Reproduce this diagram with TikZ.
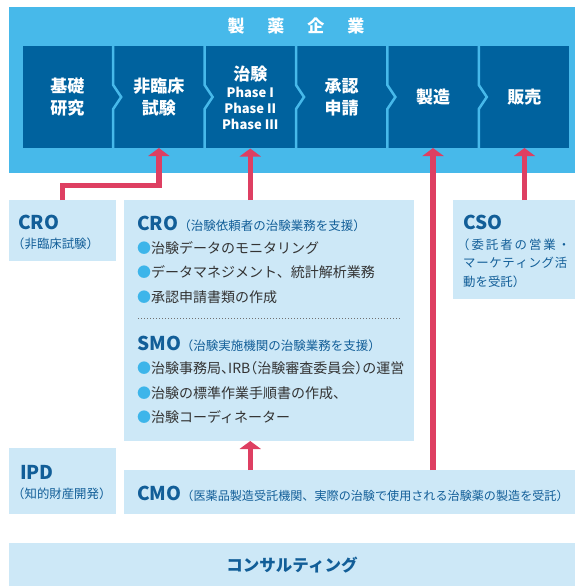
\documentclass[tikz,border=0pt]{standalone}
\usepackage{fontspec}
\setmainfont{Noto Sans CJK JP}
\newfontfamily\hw[RawFeature=+halt]{Noto Sans CJK JP}
\usetikzlibrary{arrows.meta}
\definecolor{outerblue}{HTML}{47B9EA}
\definecolor{stepblue}{HTML}{00629E}
\definecolor{paleblue}{HTML}{CDE8F7}
\definecolor{arrowpink}{HTML}{DE3F62}
\definecolor{headblue}{HTML}{125E98}
\definecolor{bodygray}{HTML}{333333}
\definecolor{dotblue}{HTML}{3DB5EA}
\newcommand{\bdot}{{\color{dotblue}●}}
\newcommand{\phs}{\fontsize{13}{16}\selectfont}
\begin{document}
\begin{tikzpicture}[x=1pt,y=-1pt,
  box/.style={fill=paleblue, draw=none, inner sep=0pt, outer sep=0pt, anchor=north west},
  stepnode/.style={minimum width=88.9pt, minimum height=102pt, inner sep=0pt, outer sep=0pt, text=white, font=\bfseries\fontsize{17}{22}\selectfont, align=center},
  sep/.style={draw=outerblue, line width=2.5pt, miter limit=10},
  arr/.style={draw=arrowpink, line width=5.5pt, -{Triangle[width=21pt,length=8pt]}},
  head/.style={anchor=base west, inner sep=0pt, text=headblue, font=\bfseries\fontsize{19}{22}\selectfont},
  sub/.style={anchor=base west, inner sep=0pt, text=headblue, font=\fontsize{12.4}{14}\selectfont},
  bul/.style={anchor=base west, inner sep=0pt, text=bodygray, font=\fontsize{14}{16}\selectfont},
]
\useasboundingbox (0,0) rectangle (575,586);
% company frame
\node[fill=outerblue, inner sep=0pt, outer sep=0pt, anchor=north west, minimum width=566pt, minimum height=166pt] (corp) at (9,7) {};
\node[anchor=base, inner sep=0pt, text=white, font=\bfseries\fontsize{17}{20}\selectfont] (title) at (296,32.5) {製\hspace{23pt}薬\hspace{23pt}企\hspace{23pt}業};
\fill[stepblue] (23,46) rectangle (569,148);
\foreach \m in {113.2,204.6,296.0,387.4,478.8}
  \draw[sep] (\m,45) -- (\m,85) -- (\m+8,97) -- (\m,109) -- (\m,149);
\node[stepnode] (s1) at (67.45,97) {基礎\\研究};
\node[stepnode] (s2) at (158.85,97) {非臨床\\試験};
\node[stepnode] (s3) at (250.25,97.5) {治験\\[-5pt]\phs Phase I\\[-6pt]\phs Phase II\\[-6pt]\phs Phase III};
\node[stepnode] (s4) at (341.65,97) {承認\\申請};
\node[stepnode] (s5) at (433.05,97) {製造};
\node[stepnode] (s6) at (524.45,97) {販売};
% pale boxes
\node[box, minimum width=107pt, minimum height=61pt] (cro1) at (9,200) {};
\node[box, minimum width=290pt, minimum height=241pt] (cro2) at (124,200) {};
\node[box, minimum width=122pt, minimum height=99pt] (cso) at (453,200) {};
\node[box, minimum width=107pt, minimum height=66pt] (ipd) at (9,448) {};
\node[box, minimum width=451pt, minimum height=44pt] (cmo) at (124,470) {};
\node[box, minimum width=566pt, minimum height=43pt] (cons) at (9,543) {};
% texts
\node[head] (t1) at (18,229) {CRO};
\node[sub] (t1s) at (12,248) {（非臨床試験）};
\node[head] (t2) at (137,230) {CRO{\mdseries\fontsize{12.5}{14}\selectfont （治験依頼者の治験業務を支援）}};
\node[bul] (c1) at (137,253) {\bdot 治験データのモニタリング};
\node[bul] (c2) at (137,277.5) {\bdot データマネジメント、統計解析業務};
\node[bul] (c3) at (137,302) {\bdot 承認申請書類の作成};
\draw[draw=bodygray!70, line width=0.7pt, dash pattern=on 0.7pt off 2.3pt] (138,318) -- (400,318);
\node[head] (t3) at (137,350) {SMO{\mdseries\fontsize{12.5}{14}\selectfont （治験実施機関の治験業務を支援）}};
\node[bul] (m1) at (137,373.5) {\bdot 治験事務局{\hw 、}IRB{\hw （}治験審査委員会{\hw ）}の運営};
\node[bul] (m2) at (137,398) {\bdot 治験の標準作業手順書の作成、};
\node[bul] (m3) at (137,422.5) {\bdot 治験コーディネーター};
\node[head] (t4) at (463,229) {CSO};
\node[sub] (t4a) at (457,249.6) {\makebox[113pt][s]{（\hfill 委\hfill 託\hfill 者\hfill の\hfill 営\hfill 業\hfill ・}};
\node[sub] (t4b) at (463,267.6) {\makebox[104pt][s]{マ\hfill ー\hfill ケ\hfill テ\hfill ィ\hfill ン\hfill グ\hfill 活}};
\node[sub] (t4c) at (463,286.6) {動を受託）};
\node[head] (t5) at (20,479) {IPD};
\node[sub] (t5s) at (12,498) {（知的財産開発）};
\node[head] (t6) at (137,500) {CMO{\mdseries\fontsize{12.1}{14}\selectfont （医薬品製造受託機関、実際の治験で使用される治験薬の製造を受託{\hw ）}}};
\node[anchor=base, inner sep=0pt, text=headblue, font=\bfseries\fontsize{16.5}{20}\selectfont] (t7) at (292,571) {コンサルティング};
% connectors
\coordinate (jy) at (0,185.5);
\draw[arr] (cro1.north) -- (cro1.north |- jy) -| (s2.south);
\draw[arr] (s3.south |- cro2.north) -- (s3.south);
\draw[arr] (s5.south |- cmo.north) -- (s5.south);
\draw[arr] (s6.south |- cso.north) -- (s6.south);
\draw[arr] (s3.south |- cmo.north) -- (s3.south |- cro2.south);
\end{tikzpicture}
\end{document}
